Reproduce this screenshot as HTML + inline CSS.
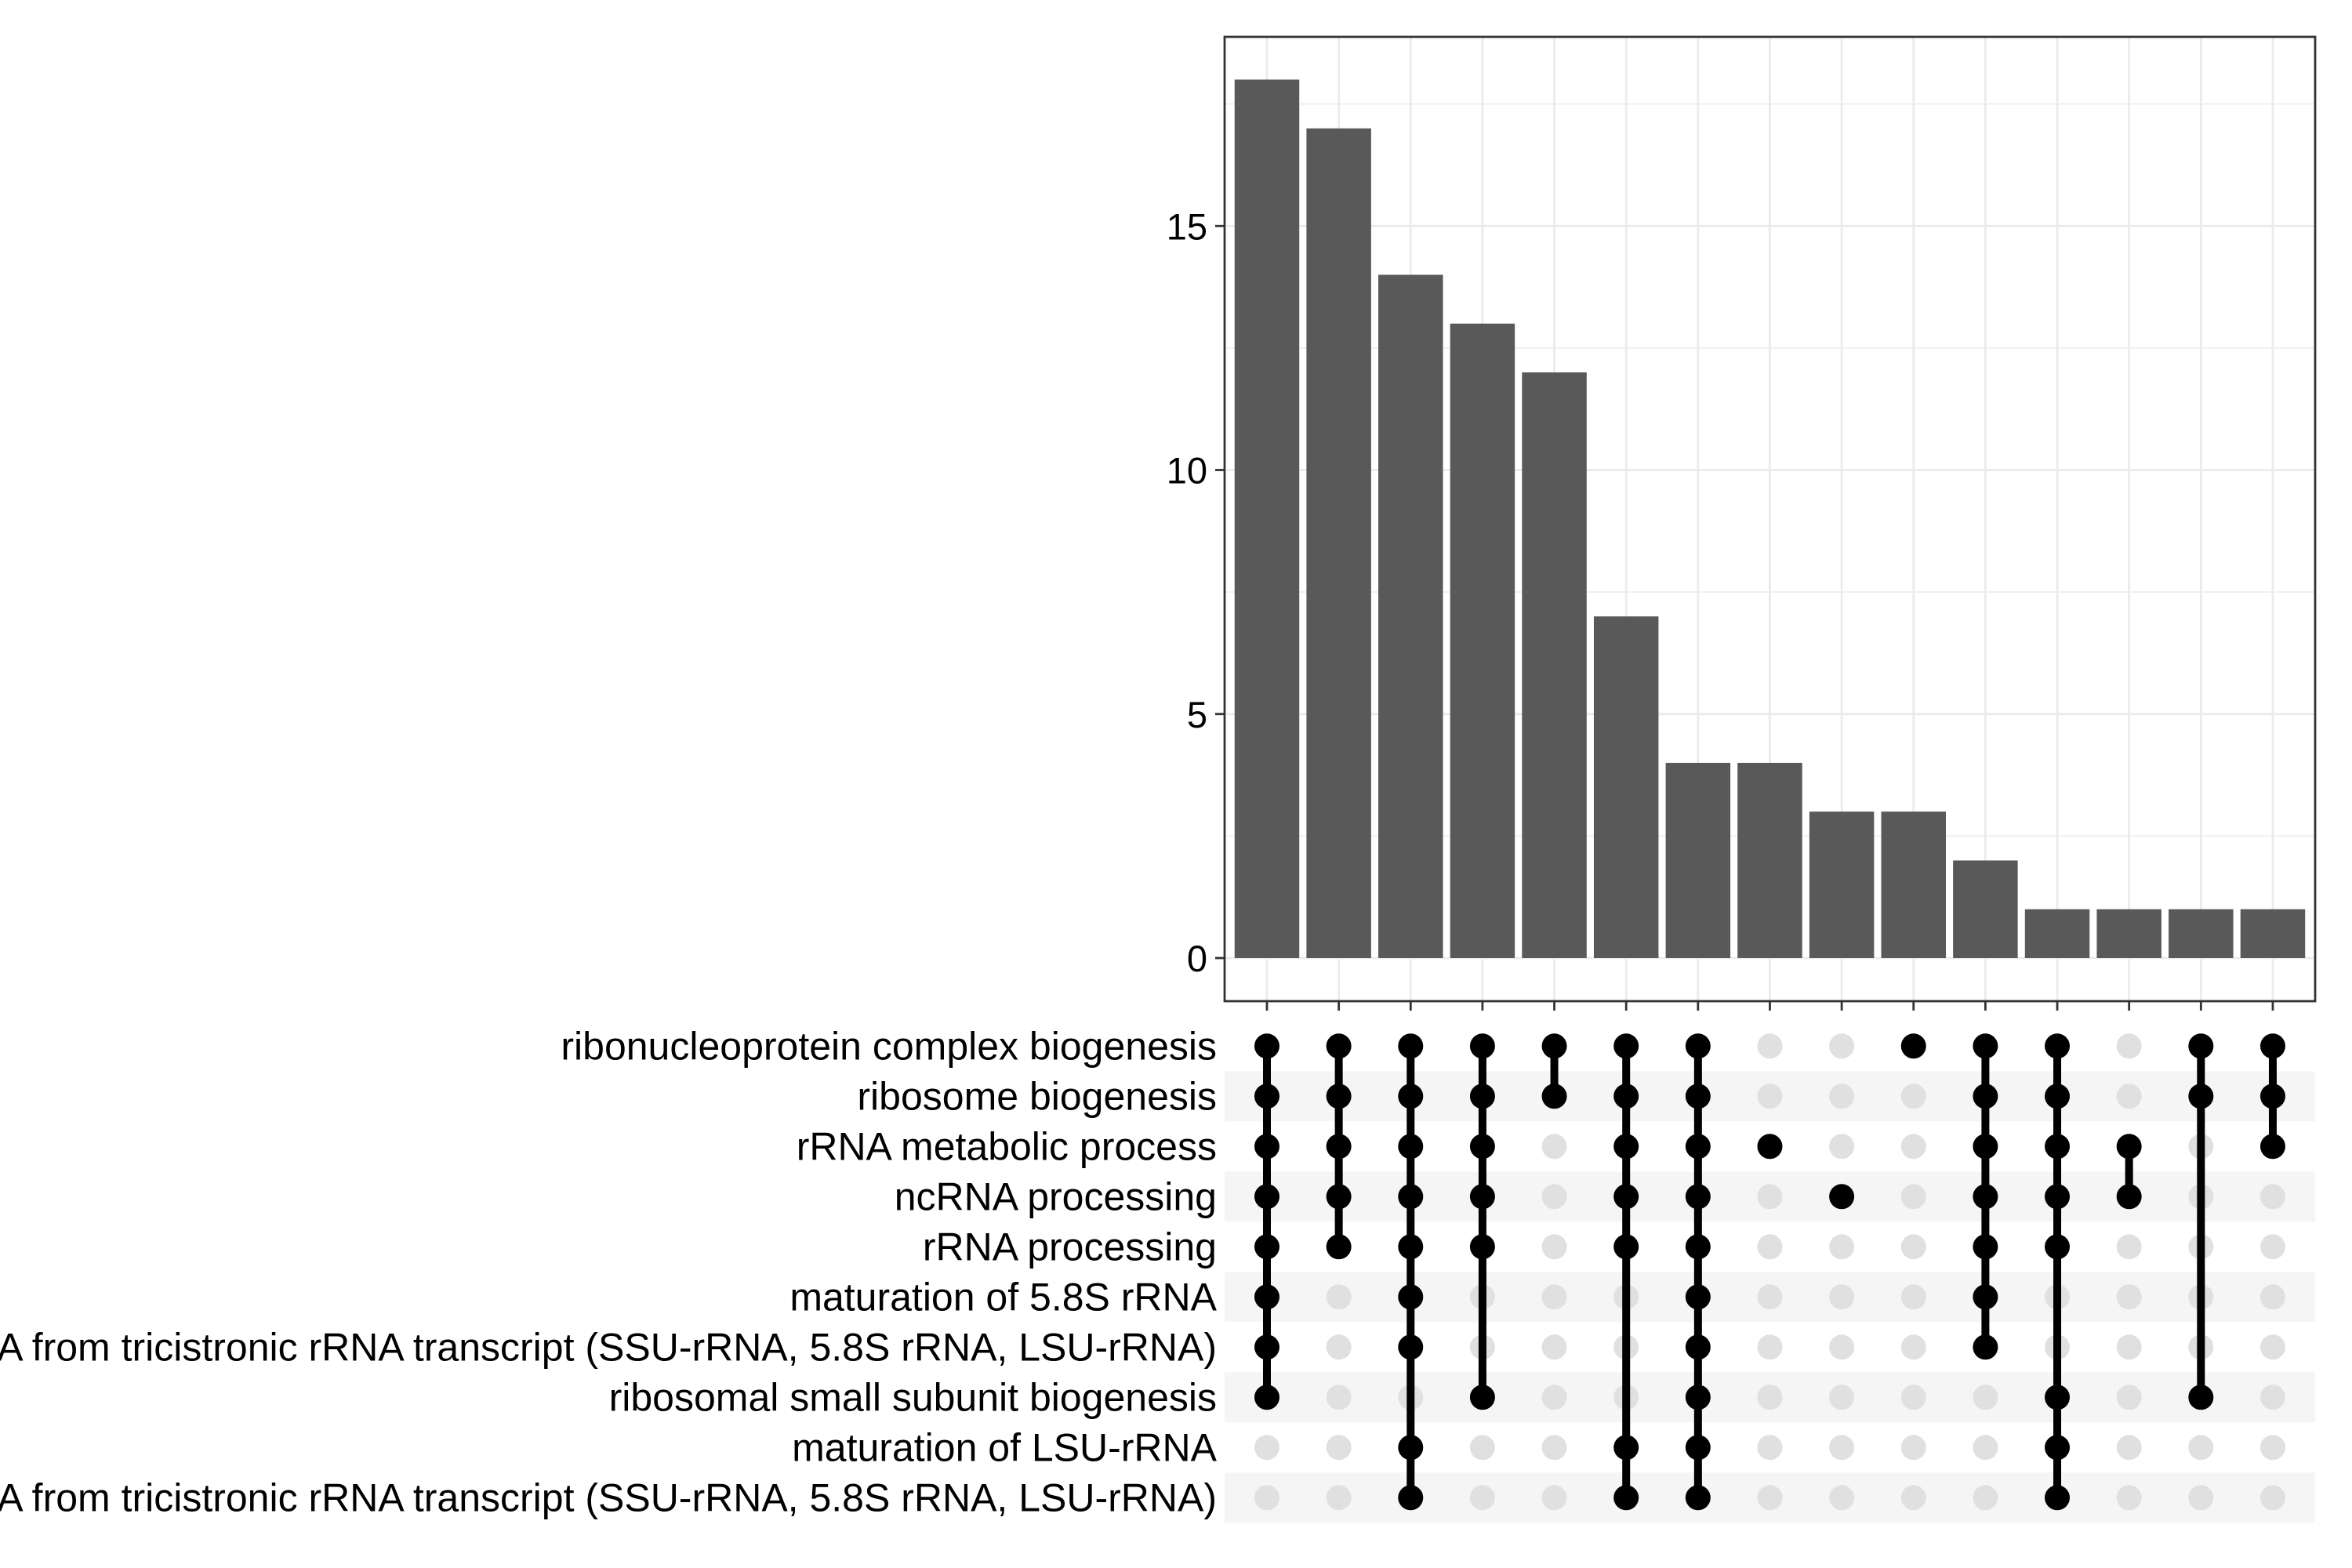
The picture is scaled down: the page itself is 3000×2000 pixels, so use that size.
<!DOCTYPE html>
<html><head><meta charset="utf-8"><style>
html,body{margin:0;padding:0;background:#fff;}
svg{display:block;}
text{font-family:"Liberation Sans",Arial,sans-serif;fill:#000;}
</style></head>
<body>
<svg id="chart" width="3000" height="2000" viewBox="0 0 3000 2000" xmlns="http://www.w3.org/2000/svg">
<g id="g-bg"></g>
</svg>
<script>
const barValues = [18, 17, 14, 13, 12, 7, 4, 4, 3, 3, 2, 1, 1, 1, 1];
const yTicks = [0, 5, 10, 15];
const yMinorTicks = [2.5, 7.5, 12.5, 17.5];
const setNames = [
  "ribonucleoprotein complex biogenesis",
  "ribosome biogenesis",
  "rRNA metabolic process",
  "ncRNA processing",
  "rRNA processing",
  "maturation of 5.8S rRNA",
  "maturation of SSU-rRNA from tricistronic rRNA transcript (SSU-rRNA, 5.8S rRNA, LSU-rRNA)",
  "ribosomal small subunit biogenesis",
  "maturation of LSU-rRNA",
  "maturation of LSU-rRNA from tricistronic rRNA transcript (SSU-rRNA, 5.8S rRNA, LSU-rRNA)"
];
const memberships = [
  [1,2,3,4,5,6,7,8],
  [1,2,3,4,5],
  [1,2,3,4,5,6,7,9,10],
  [1,2,3,4,5,8],
  [1,2],
  [1,2,3,4,5,9,10],
  [1,2,3,4,5,6,7,8,9,10],
  [3],
  [4],
  [1],
  [1,2,3,4,5,6,7],
  [1,2,3,4,5,8,9,10],
  [3,4],
  [1,2,8],
  [1,2,3]
];

const NS = "http://www.w3.org/2000/svg";
const svg = document.getElementById("chart");
const P = {left:1562, right:2953, top:47, bottom:1277};
const colStep = 91.64, col0 = 1616;
function xCol(i){ return col0 + colStep*i; }
const y0 = 1222, unit = 62.25;
function yVal(v){ return y0 - v*unit; }
const row0 = 1334.3, rowStep = 64;
function yRow(r){ return row0 + rowStep*r; }

function mk(tag, attrs){ const e=document.createElementNS(NS,tag); for(const k in attrs) e.setAttribute(k,attrs[k]); svg.appendChild(e); return e; }

let e = mk("rect",{x:P.left,y:P.top,width:P.right-P.left,height:P.bottom-P.top,fill:"#fff"});


yMinorTicks.forEach(v=>{
  const g = mk("line",{x1:P.left,x2:P.right,y1:yVal(v),y2:yVal(v),stroke:"#ebebeb","stroke-width":1.4});
  
  
});
yTicks.forEach(v=>{
  const g = mk("line",{x1:P.left,x2:P.right,y1:yVal(v),y2:yVal(v),stroke:"#ebebeb","stroke-width":2.8});
  
  
});
barValues.forEach((v,i)=>{
  const g = mk("line",{x1:xCol(i),x2:xCol(i),y1:P.top,y2:P.bottom,stroke:"#ebebeb","stroke-width":2.8});
  
  
});
barValues.forEach((v,i)=>{
  const w = colStep*0.9;
  const b = mk("rect",{x:xCol(i)-w/2,y:yVal(v),width:w,height:yVal(0)-yVal(v),fill:"#595959"});
  
  
});
e = mk("rect",{x:P.left,y:P.top,width:P.right-P.left,height:P.bottom-P.top,fill:"none",stroke:"#333","stroke-width":2.8});


yTicks.forEach(v=>{
  const t = mk("line",{x1:P.left-12,x2:P.left,y1:yVal(v),y2:yVal(v),stroke:"#333","stroke-width":2.8});
  
  
  const l = mk("text",{x:P.left-22,y:yVal(v)+17,"text-anchor":"end","font-size":47});
  l.textContent = v;
  
  
});
barValues.forEach((v,i)=>{
  const t = mk("line",{x1:xCol(i),x2:xCol(i),y1:P.bottom,y2:P.bottom+12,stroke:"#333","stroke-width":2.8});
  
  
});
setNames.forEach((n,r)=>{
  if(r%2===1){
    const s = mk("rect",{x:P.left,y:yRow(r)-rowStep/2,width:P.right-P.left,height:rowStep,fill:"#f5f5f5"});
    
    
  }
  const l = mk("text",{x:1552,y:yRow(r)+17,"text-anchor":"end","font-size":50});
  l.textContent = n;
  
  
});
barValues.forEach((v,i)=>{
  setNames.forEach((n,r)=>{
    if(memberships[i].indexOf(r+1)<0){
      const c = mk("circle",{cx:xCol(i),cy:yRow(r),r:16,fill:"#e0e0e0"});
      
      
    }
  });
});
memberships.forEach((m,i)=>{
  const mn = Math.min(...m), mx = Math.max(...m);
  if(mx>mn){
    const ln = mk("line",{x1:xCol(i),x2:xCol(i),y1:yRow(mn-1),y2:yRow(mx-1),stroke:"#000","stroke-width":10});
    
    
  }
  m.forEach(r=>{
    const c = mk("circle",{cx:xCol(i),cy:yRow(r-1),r:16,fill:"#000"});
    
    
  });
});
</script>
</body></html>
